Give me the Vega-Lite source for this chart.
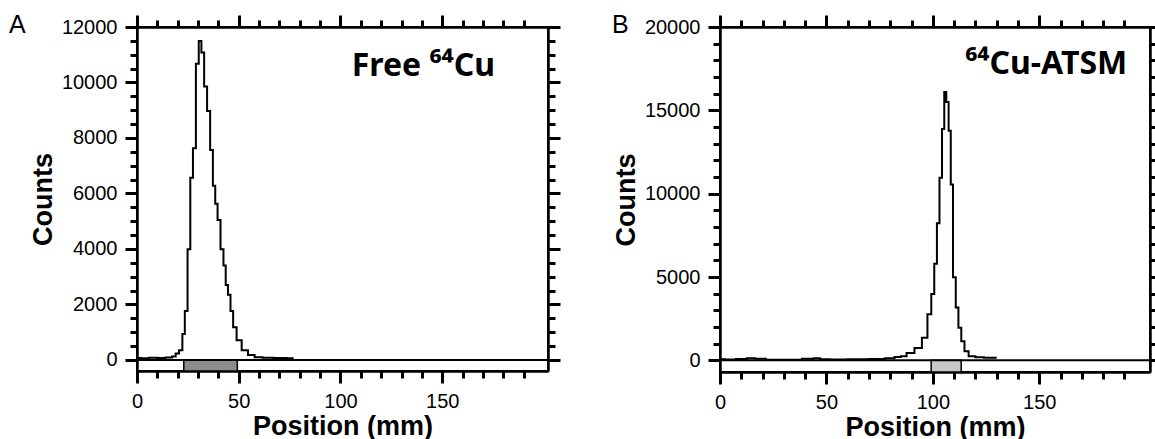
{
  "$schema": "https://vega.github.io/schema/vega-lite/v6.json",
  "background": "white",
  "padding": {"left": 8, "top": 11, "right": 0, "bottom": 0},
  "spacing": 48,
  "config": {
    "view": {"stroke": "black", "strokeWidth": 2},
    "axis": {
      "grid": false,
      "domainColor": "#000000",
      "domainWidth": 2,
      "tickColor": "#000000",
      "tickWidth": 2,
      "labelFont": "Liberation Sans",
      "labelFontSize": 20,
      "labelColor": "black",
      "labelFlush": false,
      "labelOverlap": false,
      "labelBound": false,
      "format": "d",
      "titleFont": "Liberation Sans",
      "titleFontSize": 27,
      "titleFontWeight": "bold",
      "titleColor": "black"
    },
    "title": {"font": "Liberation Sans", "fontSize": 25, "fontWeight": "normal", "color": "black"}
  },
  "hconcat": [
    {
      "width": 411,
      "height": 344,
      "title": {"text": "A", "anchor": "start", "frame": "group", "dx": -128, "offset": -24},
      "resolve": {"axis": {"x": "independent", "y": "independent"}},
      "layer": [
        {
          "data": {"values": [{"start": 23, "end": 49.3, "bottom": -400, "top": 0}]},
          "mark": {"type": "rect", "fill": "#8c8c8c", "stroke": "black", "strokeWidth": 1.5},
          "encoding": {
            "x": {"field": "start", "type": "quantitative", "scale": {"domain": [0, 202], "nice": false, "zero": false},
              "axis": {"orient": "bottom", "title": "Position (mm)", "values": [0, 50, 100, 150], "tickColor": "black", "tickWidth": 3, "tickSize": 12, "labelPadding": 8, "titlePadding": 2}},
            "x2": {"field": "end"},
            "y": {"field": "top", "type": "quantitative", "scale": {"domain": [-400, 12000], "nice": false, "zero": false},
              "axis": {"orient": "left", "title": "Counts", "values": [0, 2000, 4000, 6000, 8000, 10000, 12000], "tickColor": "black", "tickWidth": 3, "tickSize": 12, "labelPadding": 8, "titlePadding": 4}},
            "y2": {"field": "bottom"}
          }
        },
        {
          "data": {"values": [
            {"pos": 0, "counts": 70}, {"pos": 4, "counts": 60}, {"pos": 8, "counts": 80}, {"pos": 12, "counts": 70},
            {"pos": 16, "counts": 90}, {"pos": 18.4, "counts": 120}, {"pos": 19.6, "counts": 235}, {"pos": 21.7, "counts": 352},
            {"pos": 22.9, "counts": 938}, {"pos": 24.1, "counts": 1760}, {"pos": 25.6, "counts": 3988}, {"pos": 26.8, "counts": 6569},
            {"pos": 28.2, "counts": 7625}, {"pos": 29.7, "counts": 10674}, {"pos": 31.0, "counts": 11495}, {"pos": 32.3, "counts": 11085},
            {"pos": 33.7, "counts": 9853}, {"pos": 35.2, "counts": 8973}, {"pos": 36.7, "counts": 7565}, {"pos": 37.9, "counts": 6276},
            {"pos": 39.0, "counts": 5630}, {"pos": 40.2, "counts": 5044}, {"pos": 41.9, "counts": 3988}, {"pos": 43.1, "counts": 3402},
            {"pos": 44.1, "counts": 2698}, {"pos": 45.3, "counts": 2346}, {"pos": 46.6, "counts": 1760}, {"pos": 47.9, "counts": 1173},
            {"pos": 50.0, "counts": 704}, {"pos": 52.9, "counts": 352}, {"pos": 56.2, "counts": 176}, {"pos": 59.4, "counts": 100},
            {"pos": 64, "counts": 80}, {"pos": 70, "counts": 70}, {"pos": 77, "counts": 60}
          ]},
          "mark": {"type": "line", "interpolate": "step", "color": "black", "strokeWidth": 2},
          "encoding": {
            "x": {"field": "pos", "type": "quantitative", "scale": {"domain": [0, 202], "nice": false, "zero": false},
              "axis": {"orient": "top", "title": null, "labels": false, "values": [0, 50, 100, 150], "tickColor": "black", "tickWidth": 3, "tickSize": 12}},
            "y": {"field": "counts", "type": "quantitative", "scale": {"domain": [-400, 12000], "nice": false, "zero": false},
              "axis": {"orient": "right", "title": null, "labels": false, "values": [0, 2000, 4000, 6000, 8000, 10000, 12000], "tickColor": "black", "tickWidth": 3, "tickSize": 12}}
          }
        },
        {
          "data": {"values": [{"baseline": 0}]},
          "mark": {"type": "rule", "color": "black", "strokeWidth": 2},
          "encoding": {
            "x": {"datum": 0, "type": "quantitative", "scale": {"domain": [0, 202], "nice": false, "zero": false},
              "axis": {"orient": "bottom", "title": null, "labels": false, "values": [10,20,30,40,60,70,80,90,110,120,130,140,160,170,180,190], "tickColor": "black", "tickWidth": 3, "tickSize": 7}},
            "x2": {"datum": 202},
            "y": {"field": "baseline", "type": "quantitative", "scale": {"domain": [-400, 12000], "nice": false, "zero": false},
              "axis": {"orient": "left", "title": null, "labels": false, "values": [500,1000,1500,2500,3000,3500,4500,5000,5500,6500,7000,7500,8500,9000,9500,10500,11000,11500], "tickColor": "black", "tickWidth": 3, "tickSize": 7}}
          }
        },
        {
          "data": {"values": [{"label": "Free ⁶⁴Cu"}]},
          "mark": {"type": "text", "align": "right", "baseline": "alphabetic", "font": "Noto Sans", "fontSize": 32, "fontWeight": "bold", "color": "black"},
          "encoding": {
            "x": {"datum": 176, "type": "quantitative", "scale": {"domain": [0, 202], "nice": false, "zero": false},
              "axis": {"orient": "top", "title": null, "labels": false, "values": [10,20,30,40,60,70,80,90,110,120,130,140,160,170,180,190], "tickColor": "black", "tickWidth": 3, "tickSize": 7}},
            "y": {"datum": 10230, "type": "quantitative", "scale": {"domain": [-400, 12000], "nice": false, "zero": false},
              "axis": {"orient": "right", "title": null, "labels": false, "values": [500,1000,1500,2500,3000,3500,4500,5000,5500,6500,7000,7500,8500,9000,9500,10500,11000,11500], "tickColor": "black", "tickWidth": 3, "tickSize": 7}},
            "text": {"field": "label"}
          }
        }
      ]
    },
    {
      "width": 430,
      "height": 345,
      "title": {"text": "B", "anchor": "start", "frame": "group", "dx": -108, "offset": -24},
      "resolve": {"axis": {"x": "independent", "y": "independent"}},
      "layer": [
        {
          "data": {"values": [{"start": 99.2, "end": 113.3, "bottom": -700, "top": 0}]},
          "mark": {"type": "rect", "fill": "#c8c8c8", "stroke": "black", "strokeWidth": 1.5},
          "encoding": {
            "x": {"field": "start", "type": "quantitative", "scale": {"domain": [0, 202], "nice": false, "zero": false},
              "axis": {"orient": "bottom", "title": "Position (mm)", "values": [0, 50, 100, 150], "tickColor": "black", "tickWidth": 3, "tickSize": 12, "labelPadding": 8, "titlePadding": 2}},
            "x2": {"field": "end"},
            "y": {"field": "top", "type": "quantitative", "scale": {"domain": [-700, 20000], "nice": false, "zero": false},
              "axis": {"orient": "left", "title": "Counts", "values": [0, 5000, 10000, 15000, 20000], "tickColor": "black", "tickWidth": 3, "tickSize": 12, "labelPadding": 8, "titlePadding": 4}},
            "y2": {"field": "bottom"}
          }
        },
        {
          "data": {"values": [
            {"pos": 0, "counts": 60}, {"pos": 5, "counts": 50}, {"pos": 10, "counts": 80}, {"pos": 15, "counts": 120},
            {"pos": 18, "counts": 90}, {"pos": 25, "counts": 40}, {"pos": 35, "counts": 30}, {"pos": 42, "counts": 100},
            {"pos": 46, "counts": 130}, {"pos": 48, "counts": 60}, {"pos": 55, "counts": 50}, {"pos": 65, "counts": 60},
            {"pos": 75, "counts": 80}, {"pos": 80, "counts": 120}, {"pos": 84, "counts": 200}, {"pos": 85.9, "counts": 242},
            {"pos": 89.4, "counts": 444}, {"pos": 93.3, "counts": 747}, {"pos": 96.4, "counts": 1353}, {"pos": 98.5, "counts": 2767},
            {"pos": 100.0, "counts": 3979}, {"pos": 101.3, "counts": 5797}, {"pos": 102.5, "counts": 8222}, {"pos": 103.7, "counts": 10949},
            {"pos": 104.9, "counts": 13877}, {"pos": 105.8, "counts": 16101}, {"pos": 106.8, "counts": 15494}, {"pos": 108.0, "counts": 13777},
            {"pos": 108.8, "counts": 10544}, {"pos": 110.1, "counts": 4989}, {"pos": 111.4, "counts": 3171}, {"pos": 112.6, "counts": 1959},
            {"pos": 114.1, "counts": 1151}, {"pos": 115.6, "counts": 545}, {"pos": 118.0, "counts": 242}, {"pos": 122, "counts": 180},
            {"pos": 126, "counts": 160}, {"pos": 130, "counts": 150}
          ]},
          "mark": {"type": "line", "interpolate": "step", "color": "black", "strokeWidth": 2},
          "encoding": {
            "x": {"field": "pos", "type": "quantitative", "scale": {"domain": [0, 202], "nice": false, "zero": false},
              "axis": {"orient": "top", "title": null, "labels": false, "values": [0, 50, 100, 150], "tickColor": "black", "tickWidth": 3, "tickSize": 12}},
            "y": {"field": "counts", "type": "quantitative", "scale": {"domain": [-700, 20000], "nice": false, "zero": false},
              "axis": {"orient": "right", "title": null, "labels": false, "values": [0, 5000, 10000, 15000, 20000], "tickColor": "black", "tickWidth": 3, "tickSize": 12}}
          }
        },
        {
          "data": {"values": [{"baseline": 0}]},
          "mark": {"type": "rule", "color": "black", "strokeWidth": 2},
          "encoding": {
            "x": {"datum": 0, "type": "quantitative", "scale": {"domain": [0, 202], "nice": false, "zero": false},
              "axis": {"orient": "bottom", "title": null, "labels": false, "values": [10,20,30,40,60,70,80,90,110,120,130,140,160,170,180,190], "tickColor": "black", "tickWidth": 3, "tickSize": 7}},
            "x2": {"datum": 202},
            "y": {"field": "baseline", "type": "quantitative", "scale": {"domain": [-700, 20000], "nice": false, "zero": false},
              "axis": {"orient": "left", "title": null, "labels": false, "values": [1000,2000,3000,4000,6000,7000,8000,9000,11000,12000,13000,14000,16000,17000,18000,19000], "tickColor": "black", "tickWidth": 3, "tickSize": 7}}
          }
        },
        {
          "data": {"values": [{"label": "⁶⁴Cu-ATSM"}]},
          "mark": {"type": "text", "align": "right", "baseline": "alphabetic", "font": "Noto Sans", "fontSize": 32, "fontWeight": "bold", "color": "black"},
          "encoding": {
            "x": {"datum": 191.3, "type": "quantitative", "scale": {"domain": [0, 202], "nice": false, "zero": false},
              "axis": {"orient": "top", "title": null, "labels": false, "values": [10,20,30,40,60,70,80,90,110,120,130,140,160,170,180,190], "tickColor": "black", "tickWidth": 3, "tickSize": 7}},
            "y": {"datum": 17210, "type": "quantitative", "scale": {"domain": [-700, 20000], "nice": false, "zero": false},
              "axis": {"orient": "right", "title": null, "labels": false, "values": [1000,2000,3000,4000,6000,7000,8000,9000,11000,12000,13000,14000,16000,17000,18000,19000], "tickColor": "black", "tickWidth": 3, "tickSize": 7}},
            "text": {"field": "label"}
          }
        }
      ]
    }
  ]
}
